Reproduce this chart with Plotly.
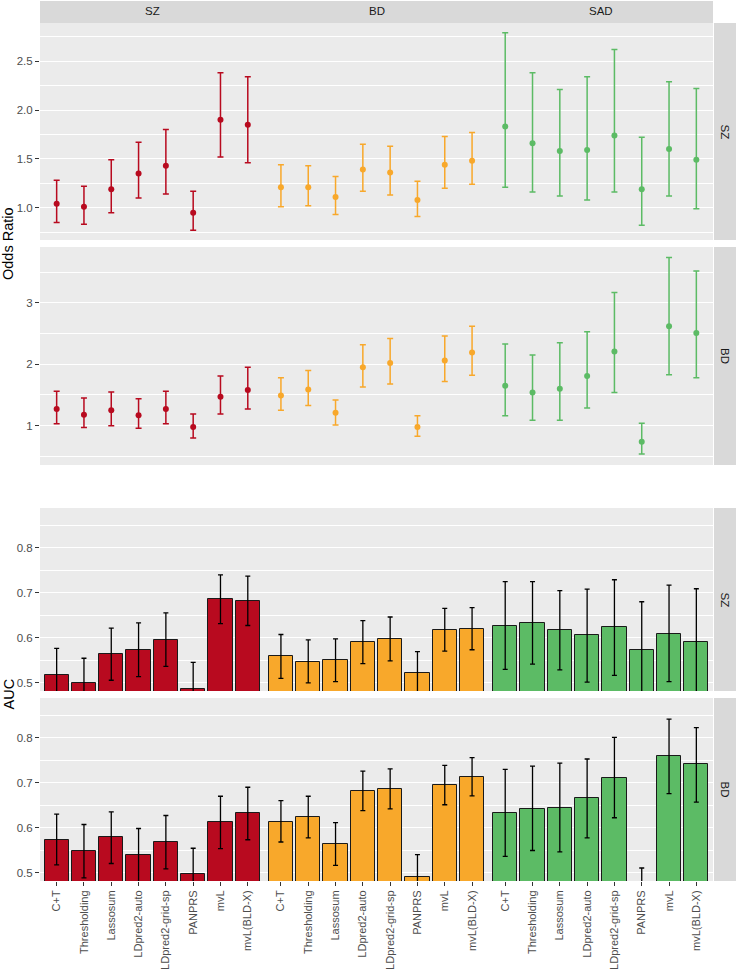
import plotly.graph_objects as go

methods = ["C+T", "Thresholding", "Lassosum", "LDpred2-auto", "LDpred2-grid-sp", "PANPRS", "mvL", "mvL(BLD-X)"]
groups = ["SZ", "BD", "SAD"]
targets = ["SZ", "BD"]
colors = ["#B80A1F", "#F8A82B", "#5CBB65"]

# Odds ratio, target SZ (24 = 3 groups x 8 methods)
or_sz_val = [1.04, 1.01, 1.19, 1.35, 1.43, 0.95, 1.90, 1.85,
             1.21, 1.21, 1.11, 1.39, 1.36, 1.08, 1.44, 1.48,
             1.83, 1.66, 1.58, 1.59, 1.74, 1.19, 1.60, 1.49]
or_sz_lo = [0.85, 0.83, 0.95, 1.10, 1.14, 0.77, 1.52, 1.46,
            1.01, 1.02, 0.93, 1.17, 1.13, 0.91, 1.20, 1.24,
            1.21, 1.16, 1.12, 1.08, 1.16, 0.82, 1.12, 0.99]
or_sz_hi = [1.28, 1.22, 1.49, 1.67, 1.80, 1.17, 2.38, 2.34,
            1.44, 1.43, 1.32, 1.65, 1.63, 1.27, 1.73, 1.77,
            2.79, 2.38, 2.21, 2.34, 2.62, 1.72, 2.29, 2.22]

# Odds ratio, target BD
or_bd_val = [1.27, 1.18, 1.25, 1.17, 1.27, 0.98, 1.47, 1.58,
             1.49, 1.59, 1.21, 1.95, 2.02, 0.98, 2.06, 2.19,
             1.65, 1.54, 1.60, 1.81, 2.21, 0.74, 2.62, 2.51]
or_bd_lo = [1.03, 0.97, 1.00, 0.96, 1.03, 0.80, 1.19, 1.27,
            1.25, 1.33, 1.01, 1.63, 1.68, 0.83, 1.72, 1.82,
            1.16, 1.09, 1.09, 1.29, 1.54, 0.54, 1.83, 1.78]
or_bd_hi = [1.56, 1.45, 1.55, 1.44, 1.56, 1.19, 1.81, 1.95,
            1.78, 1.90, 1.42, 2.32, 2.42, 1.16, 2.46, 2.62,
            2.33, 2.15, 2.35, 2.53, 3.17, 1.04, 3.74, 3.52]

# AUC, target SZ
auc_sz_val = [0.516, 0.498, 0.563, 0.573, 0.595, 0.486, 0.686, 0.682,
              0.558, 0.546, 0.550, 0.590, 0.597, 0.522, 0.618, 0.620,
              0.627, 0.633, 0.616, 0.605, 0.623, 0.572, 0.609, 0.591]
auc_sz_lo = [0.456, 0.442, 0.505, 0.513, 0.536, 0.427, 0.631, 0.627,
             0.509, 0.499, 0.502, 0.542, 0.548, 0.475, 0.570, 0.573,
             0.529, 0.541, 0.528, 0.501, 0.516, 0.464, 0.502, 0.473]
auc_sz_hi = [0.576, 0.554, 0.621, 0.633, 0.655, 0.545, 0.740, 0.737,
             0.607, 0.595, 0.597, 0.638, 0.646, 0.569, 0.665, 0.667,
             0.725, 0.725, 0.705, 0.708, 0.729, 0.680, 0.717, 0.709]

# AUC, target BD
auc_bd_val = [0.573, 0.548, 0.578, 0.539, 0.568, 0.497, 0.612, 0.632,
              0.613, 0.623, 0.563, 0.682, 0.686, 0.491, 0.695, 0.713,
              0.632, 0.642, 0.644, 0.665, 0.711, 0.450, 0.760, 0.741]
auc_bd_lo = [0.517, 0.488, 0.520, 0.479, 0.508, 0.440, 0.553, 0.573,
             0.568, 0.577, 0.516, 0.638, 0.642, 0.442, 0.651, 0.671,
             0.536, 0.549, 0.546, 0.577, 0.622, 0.390, 0.676, 0.657]
auc_bd_hi = [0.630, 0.607, 0.635, 0.598, 0.627, 0.554, 0.670, 0.690,
             0.660, 0.670, 0.611, 0.726, 0.731, 0.540, 0.739, 0.756,
             0.730, 0.737, 0.744, 0.753, 0.801, 0.510, 0.842, 0.823]

# ---------------- layout helpers ----------------
W, H = 736, 970
ML, MR, MT, MB = 40, 23, 23, 89
PW = W - ML - MR
PH = H - MT - MB
FONT = "Liberation Sans, Arial, sans-serif"

n_m = len(methods)
GAP = 0.214
pos = [i + GAP * (i // n_m) for i in range(n_m * len(groups))]
xrange_ = [-0.61, pos[-1] + 0.61]


def ydom(top, bottom):
    return [(H - MB - bottom) / PH, (H - MB - top) / PH]


panels = [
    dict(name="SZ", top=23, bottom=240, rng=[0.67, 2.89], dtick=0.5, mtick0=0.25, mdtick=0.5, fmt=".1f"),
    dict(name="BD", top=247, bottom=465, rng=[0.36, 3.91], dtick=1, mtick0=0.5, mdtick=1, fmt="d"),
    dict(name="SZ", top=508, bottom=691, rng=[0.481, 0.889], dtick=0.1, mtick0=0.05, mdtick=0.1, fmt=".1f"),
    dict(name="BD", top=698, bottom=881, rng=[0.481, 0.889], dtick=0.1, mtick0=0.05, mdtick=0.1, fmt=".1f"),
]

fig = go.Figure()

# ---------------- odds-ratio panels ----------------
or_sets = [(or_sz_val, or_sz_lo, or_sz_hi), (or_bd_val, or_bd_lo, or_bd_hi)]
for p, (val, lo, hi) in enumerate(or_sets):
    ax = "" if p == 0 else str(p + 1)
    for g, grp in enumerate(groups):
        idx = range(g * n_m, (g + 1) * n_m)
        fig.add_trace(go.Scatter(
            x=[pos[i] for i in idx], y=[val[i] for i in idx],
            mode="markers",
            marker=dict(color=colors[g], size=6),
            error_y=dict(type="data", symmetric=False,
                         array=[hi[i] - val[i] for i in idx],
                         arrayminus=[val[i] - lo[i] for i in idx],
                         color=colors[g], thickness=1.5, width=3),
            xaxis="x" + ax, yaxis="y" + ax, showlegend=False,
            hovertext=[methods[i % n_m] for i in idx],
        ))

# ---------------- AUC panels ----------------
auc_sets = [(auc_sz_val, auc_sz_lo, auc_sz_hi), (auc_bd_val, auc_bd_lo, auc_bd_hi)]
for p, (val, lo, hi) in enumerate(auc_sets):
    ax = str(p + 3)
    for g, grp in enumerate(groups):
        idx = range(g * n_m, (g + 1) * n_m)
        fig.add_trace(go.Bar(
            x=[pos[i] for i in idx], y=[val[i] for i in idx],
            width=0.89,
            marker=dict(color=colors[g], line=dict(color="#1A1A1A", width=1)),
            error_y=dict(type="data", symmetric=False,
                         array=[hi[i] - val[i] for i in idx],
                         arrayminus=[val[i] - lo[i] for i in idx],
                         color="black", thickness=1.3, width=2.5),
            xaxis="x" + ax, yaxis="y" + ax, showlegend=False,
            hovertext=[methods[i % n_m] for i in idx],
        ))

layout = dict(
    width=W, height=H, autosize=False,
    margin=dict(l=ML, r=MR, t=MT, b=MB, pad=0, autoexpand=False),
    paper_bgcolor="white", plot_bgcolor="#EBEBEB",
    font=dict(family=FONT, size=11, color="#4D4D4D"),
    bargap=0, showlegend=False,
)

shapes = []
annotations = []
for k, pnl in enumerate(panels):
    ax = "" if k == 0 else str(k + 1)
    dom = ydom(pnl["top"], pnl["bottom"])
    is_bottom = (k == 3)
    layout["xaxis" + ax] = dict(
        domain=[0, 1], anchor="y" + ax, range=xrange_, automargin=False,
        showgrid=False, zeroline=False, showline=False,
        tickmode="array", tickvals=pos,
        ticktext=[methods[i % n_m] for i in range(len(pos))],
        showticklabels=is_bottom, ticks="outside" if is_bottom else "",
        ticklen=4, tickwidth=1, tickcolor="#333333", tickangle=-90,
        tickfont=dict(family=FONT, size=11, color="#4D4D4D"),
        fixedrange=True,
    )
    layout["yaxis" + ax] = dict(
        domain=dom, anchor="x" + ax, range=pnl["rng"], automargin=False,
        tickmode="linear", tick0=0, dtick=pnl["dtick"], tickformat=pnl["fmt"],
        ticks="outside", ticklen=4, tickwidth=1, tickcolor="#333333",
        tickfont=dict(family=FONT, size=11.5, color="#4D4D4D"),
        showgrid=True, gridcolor="white", gridwidth=1.1,
        zeroline=False, showline=False,
        minor=dict(tickmode="linear", tick0=pnl["mtick0"], dtick=pnl["mdtick"],
                   showgrid=True, gridcolor="white", gridwidth=0.55, ticks=""),
        fixedrange=True,
    )
    # right strip
    shapes.append(dict(type="rect", xref="paper", yref="paper",
                       x0=1 + 1 / PW, x1=1 + MR / PW, y0=dom[0], y1=dom[1],
                       fillcolor="#D9D9D9", line=dict(width=0), layer="above"))
    annotations.append(dict(xref="paper", yref="paper", x=1 + 12 / PW, y=(dom[0] + dom[1]) / 2,
                            text=pnl["name"], showarrow=False, textangle=90,
                            xanchor="center", yanchor="middle",
                            font=dict(family=FONT, size=11.5, color="#1A1A1A")))

# top strip
shapes.append(dict(type="rect", xref="paper", yref="paper",
                   x0=0, x1=1, y0=1, y1=1 + (MT - 1) / PH,
                   fillcolor="#D9D9D9", line=dict(width=0), layer="above"))
for g, grp in enumerate(groups):
    xs = pos[g * n_m:(g + 1) * n_m]
    annotations.append(dict(xref="x", yref="paper", x=(xs[0] + xs[-1]) / 2,
                            y=1 + (MT / 2) / PH, text=grp, showarrow=False,
                            xanchor="center", yanchor="middle",
                            font=dict(family=FONT, size=11.5, color="#1A1A1A")))

# axis titles
or_dom_top = ydom(panels[0]["top"], panels[0]["bottom"])[1]
or_dom_bot = ydom(panels[1]["top"], panels[1]["bottom"])[0]
auc_dom_top = ydom(panels[2]["top"], panels[2]["bottom"])[1]
auc_dom_bot = ydom(panels[3]["top"], panels[3]["bottom"])[0]
annotations.append(dict(xref="paper", yref="paper", x=(8 - ML) / PW, y=(or_dom_top + or_dom_bot) / 2,
                        text="Odds Ratio", showarrow=False, textangle=-90,
                        xanchor="center", yanchor="middle",
                        font=dict(family=FONT, size=14.5, color="black")))
annotations.append(dict(xref="paper", yref="paper", x=(8 - ML) / PW, y=(auc_dom_top + auc_dom_bot) / 2,
                        text="AUC", showarrow=False, textangle=-90,
                        xanchor="center", yanchor="middle",
                        font=dict(family=FONT, size=14.5, color="black")))

layout["shapes"] = shapes
layout["annotations"] = annotations
fig.update_layout(**layout)

fig.write_html(
    "out.html",
    config={"displayModeBar": False, "responsive": False},
    post_script="document.body.style.margin='0';document.body.style.padding='0';"
                "document.body.style.overflow='hidden';"
                "document.documentElement.style.overflow='hidden';",
)
